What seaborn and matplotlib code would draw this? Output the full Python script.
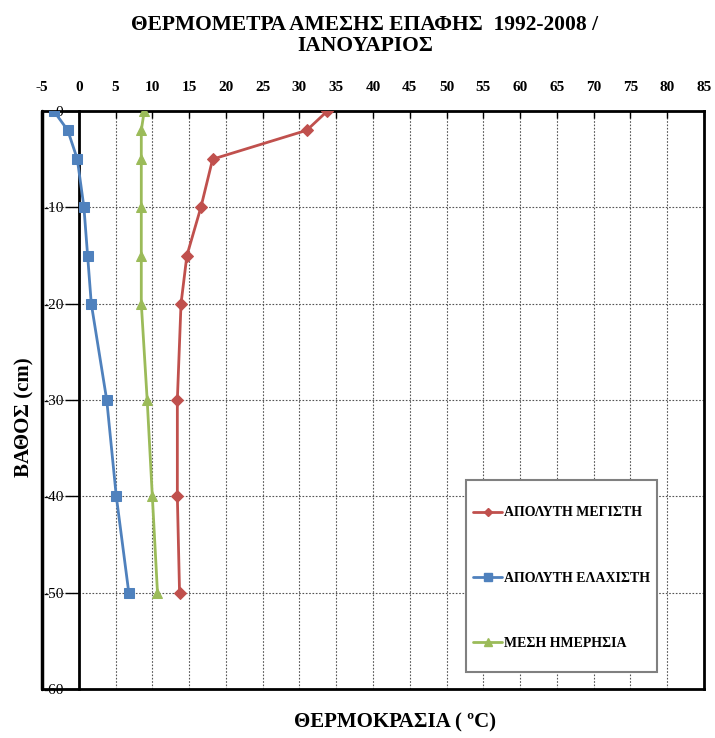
import matplotlib
matplotlib.use("Agg")
import matplotlib.pyplot as plt
import seaborn as sns
import pandas as pd
from matplotlib.lines import Line2D
from matplotlib.patches import Rectangle

sns.set_style("white")
plt.rcParams['font.family'] = ['Liberation Serif', 'DejaVu Serif']
plt.rcParams['axes.unicode_minus'] = False
for k in ['text.color', 'axes.labelcolor', 'xtick.color', 'ytick.color']:
    plt.rcParams[k] = 'black'

depths = [0, -2, -5, -10, -15, -20, -30, -40, -50]
abs_max = [33.8, 31.0, 18.2, 16.6, 14.7, 13.9, 13.4, 13.4, 13.7]
abs_min = [-3.4, -1.5, -0.2, 0.7, 1.2, 1.7, 3.8, 5.1, 6.8]
daily_mean = [8.9, 8.5, 8.5, 8.5, 8.5, 8.5, 9.3, 10.0, 10.7]
series_names = ["ΑΠΟΛΥΤΗ ΜΕΓΙΣΤΗ", "ΑΠΟΛΥΤΗ ΕΛΑΧΙΣΤΗ", "ΜΕΣΗ ΗΜΕΡΗΣΙΑ"]
x_ticks = list(range(-5, 90, 5))
y_ticks = list(range(0, -70, -10))

colors = ["#C0504D", "#4F81BD", "#9BBB59"]
markers = ["D", "s", "^"]
msizes = [6, 7.5, 7]

W, H = 715, 738
fig = plt.figure(figsize=(W / 100, H / 100), dpi=100)
L, R, T, B = 42, 704, 111, 689
ax = fig.add_axes([L / W, 1 - B / H, (R - L) / W, (B - T) / H])

for name, vals, c, m, ms in zip(series_names, [abs_max, abs_min, daily_mean], colors, markers, msizes):
    df = pd.DataFrame({"temp": vals, "depth": depths})
    sns.lineplot(data=df, x="temp", y="depth", sort=False, ax=ax, color=c,
                 marker=m, markersize=ms, markeredgecolor=c, linewidth=2,
                 legend=False, estimator=None, zorder=3)

ax.set_xlim(-5, 85)
ax.set_ylim(-60, 0)
ax.set_xticks(x_ticks)
ax.set_yticks(y_ticks)
ax.xaxis.tick_top()
ax.tick_params(axis='x', direction='in', length=5, width=1, pad=12, labelsize=11, top=True, bottom=False)
ax.tick_params(axis='y', direction='out', length=10, width=1, pad=1, labelsize=11, left=True)
for lbl in ax.get_xticklabels() + ax.get_yticklabels():
    lbl.set_fontweight('bold')

ax.grid(True, axis='both', color='#555555', linestyle=(0, (1.5, 1.5)), linewidth=0.8)
ax.set_axisbelow(True)

for s in ['top', 'right', 'bottom', 'left']:
    ax.spines[s].set_color('black')
    ax.spines[s].set_linewidth(2)
ax.spines['left'].set_position(('data', 0))
ax.axvline(-5, color='black', linewidth=2.5, clip_on=False, zorder=5)

ax.set_xlabel("")
ax.set_ylabel("")
fig.text(395 / W, 1 - 722 / H, "ΘΕΡΜΟΚΡΑΣΙΑ ( ºC)", ha='center', va='center',
         fontsize=15, fontweight='bold')
fig.text(24 / W, 1 - 417 / H, "ΒΑΘΟΣ (cm)", ha='center', va='center', rotation=90,
         fontsize=15, fontweight='bold')

fig.text(365 / W, 1 - 25 / H, "ΘΕΡΜΟΜΕΤΡΑ ΑΜΕΣΗΣ ΕΠΑΦΗΣ  1992-2008 /", ha='center', va='center',
         fontsize=15.5, fontweight='bold')
fig.text(365 / W, 1 - 46 / H, "ΙΑΝΟΥΑΡΙΟΣ", ha='center', va='center',
         fontsize=15.5, fontweight='bold')

# legend box
bx0, bx1, by0, by1 = 466, 657, 480, 672
ax.add_patch(Rectangle(((bx0 - L) / (R - L), (B - by1) / (B - T)), (bx1 - bx0) / (R - L),
                       (by1 - by0) / (B - T), transform=ax.transAxes, facecolor='white',
                       edgecolor='#808080', linewidth=1.5, zorder=6))

handles = [Line2D([], [], color=c, marker=m, markersize=ms * 0.75, markeredgecolor=c, linewidth=2)
           for c, m, ms in zip(colors, markers, msizes)]
leg = ax.legend(handles, series_names, loc='center left',
                bbox_to_anchor=((473 - L) / (R - L), (B - 578) / (B - T)),
                frameon=False, labelspacing=3.75, handlelength=2.1, handletextpad=0.1,
                borderpad=0, borderaxespad=0, prop={'size': 10, 'weight': 'bold'})
leg.set_zorder(7)

fig.savefig("out.png", dpi=100)
